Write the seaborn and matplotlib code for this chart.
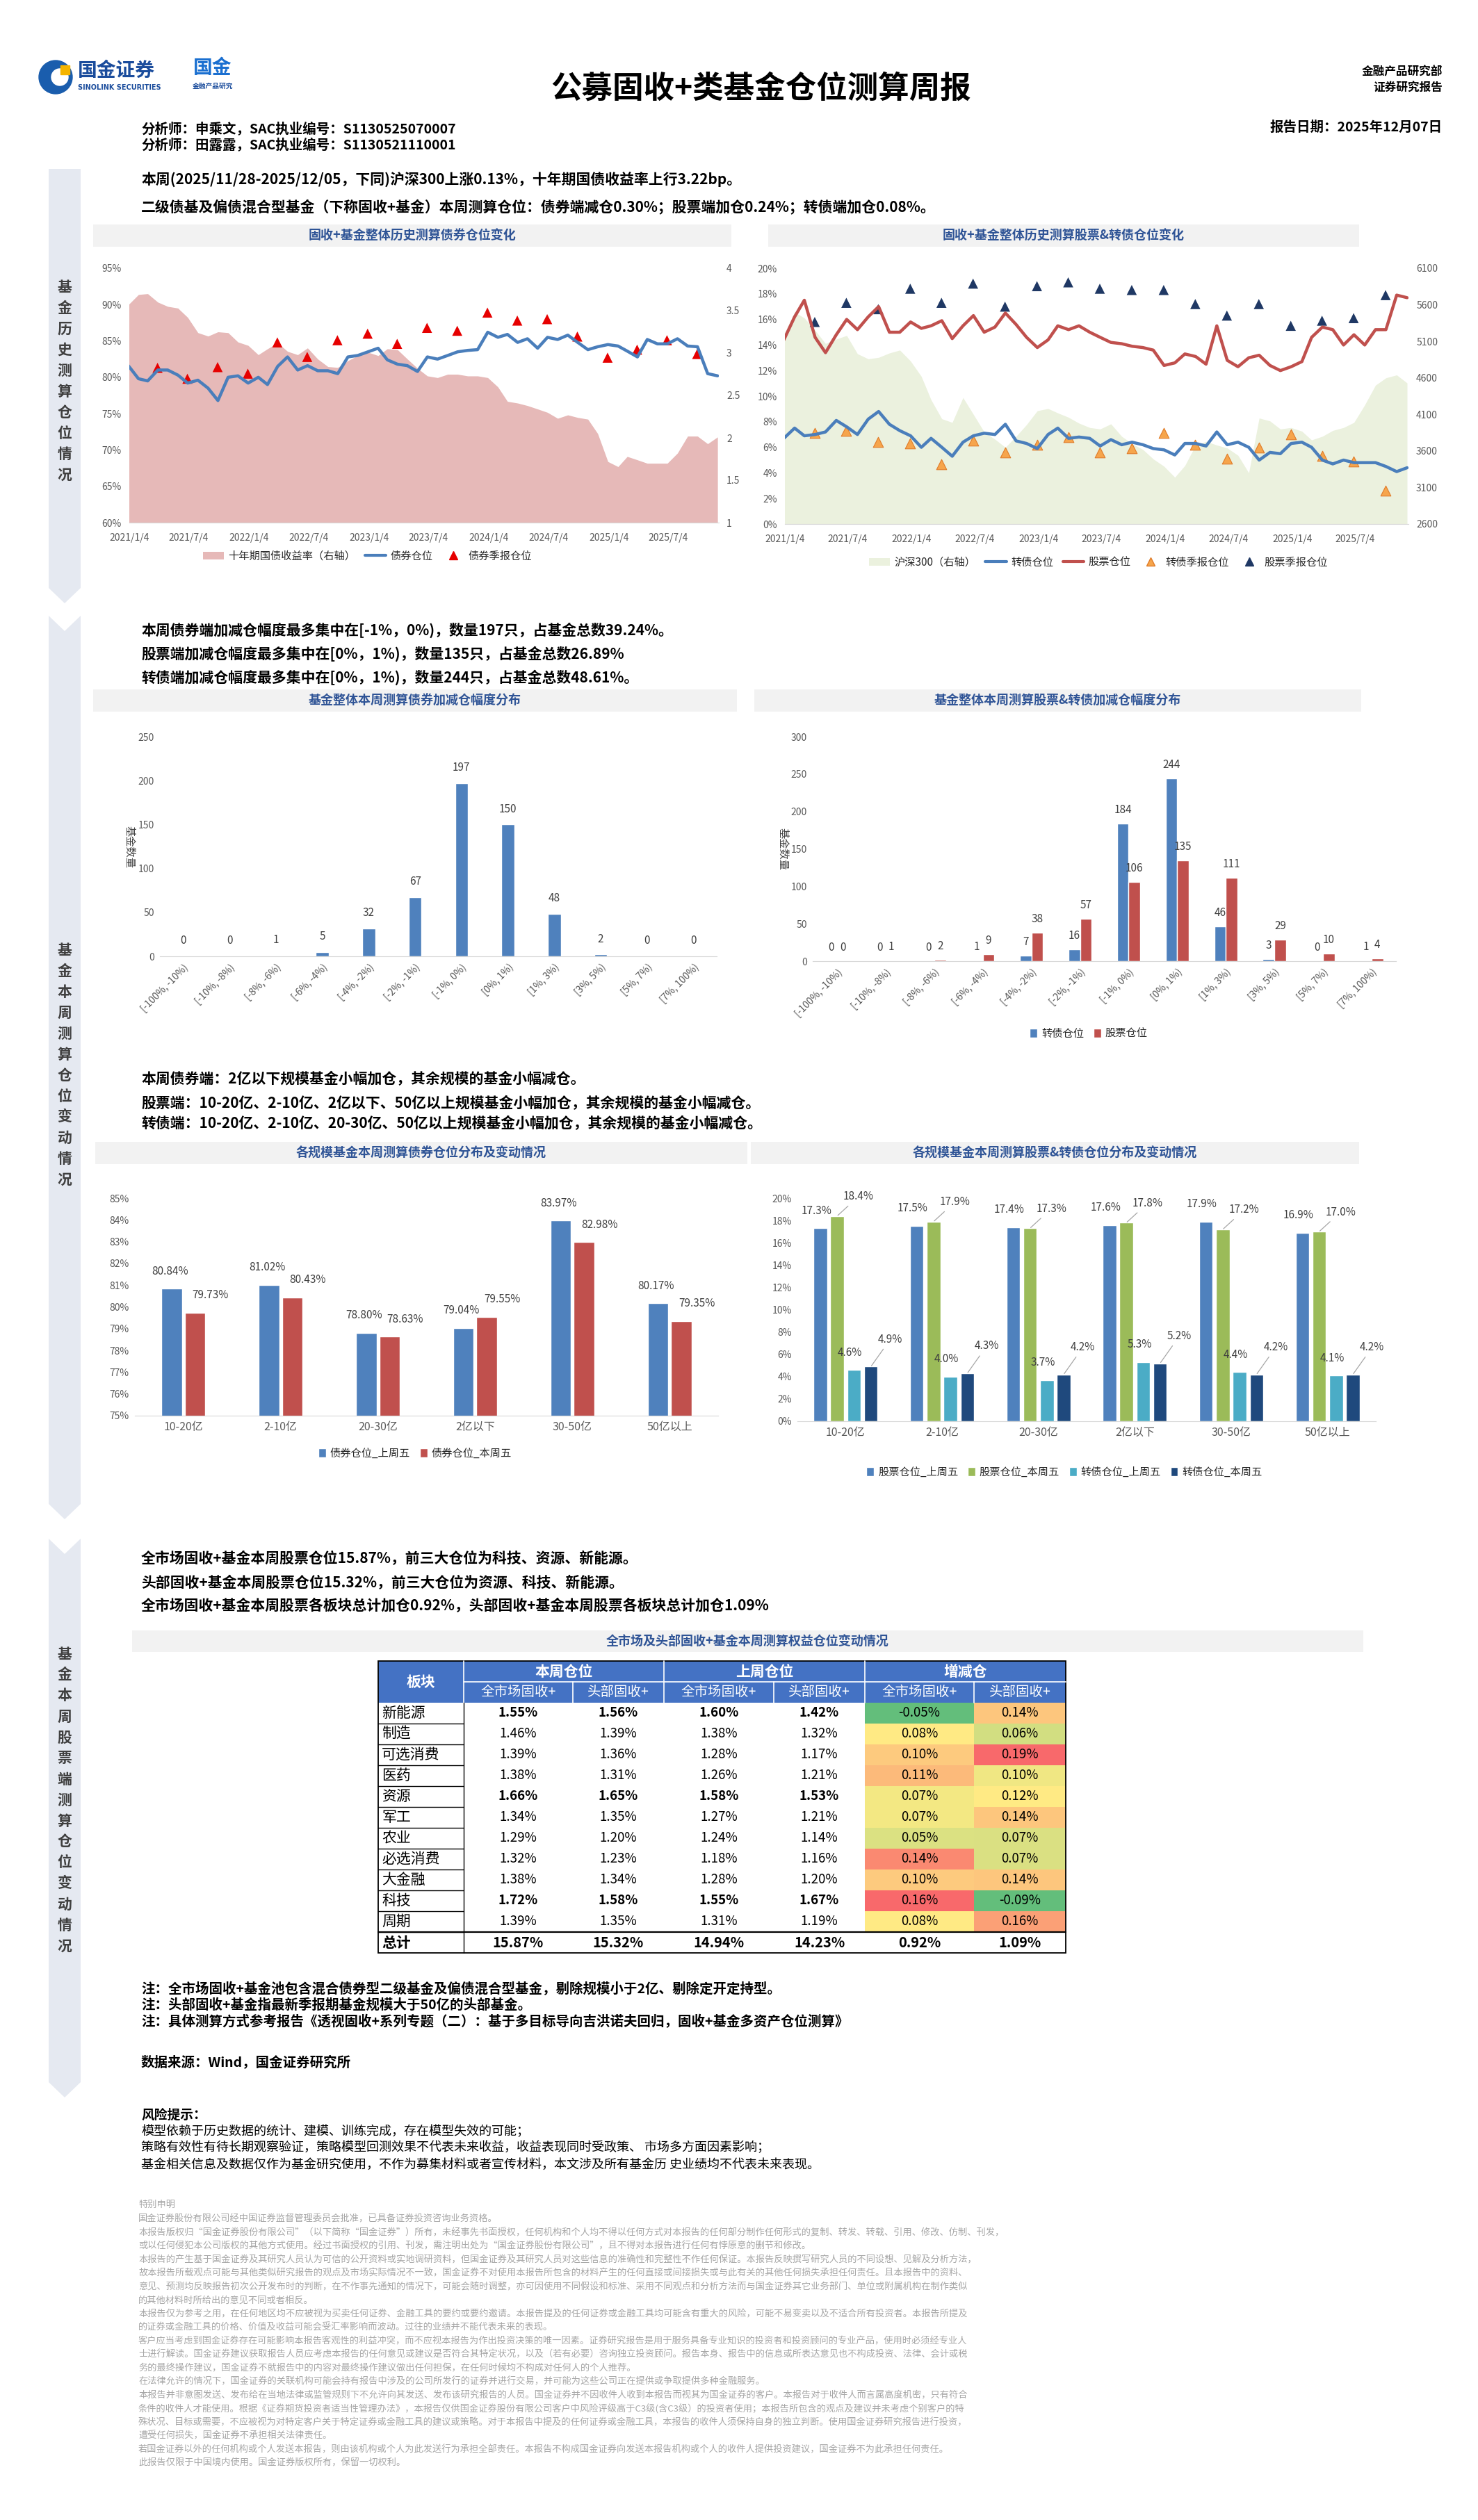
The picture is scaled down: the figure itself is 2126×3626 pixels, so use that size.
import numpy as np
import pandas as pd
import matplotlib
matplotlib.use('Agg')
import matplotlib.pyplot as plt
import seaborn as sns
from matplotlib.patches import Rectangle, Polygon, Patch, Circle
from matplotlib.lines import Line2D
from matplotlib.colors import LinearSegmentedColormap, TwoSlopeNorm
from matplotlib.ticker import FuncFormatter

sns.set_style('white')
plt.rcParams['font.family'] = ['Noto Sans CJK SC', 'DejaVu Sans']
plt.rcParams['axes.unicode_minus'] = False

# ---------------- data ----------------
months = pd.date_range('2021-01-01', '2025-12-01', freq='MS')
quarters = pd.date_range('2021-03-31', periods=19, freq=pd.offsets.QuarterEnd())
tick_dates = pd.date_range('2021-01-04', periods=10, freq=pd.DateOffset(months=6))

bond_pos = [81.6, 79.8, 79.5, 81.0, 81.0, 80.3, 79.2, 79.6, 78.5, 76.8,
            80.0, 80.2, 79.2, 80.0, 79.0, 81.5, 82.8, 81.0, 81.6, 80.9,
            80.9, 80.5, 82.8, 83.0, 83.5, 84.0, 82.4, 81.8, 81.6, 80.8,
            82.8, 82.5, 83.0, 83.5, 83.7, 83.8, 86.2, 85.5, 85.9, 84.8,
            85.3, 84.0, 85.5, 85.2, 85.8, 84.8, 83.8, 84.2, 84.5, 84.3,
            83.6, 82.8, 85.2, 84.6, 84.6, 85.3, 84.3, 84.2, 80.5, 80.2]
yield_10y = [3.57, 3.69, 3.70, 3.60, 3.55, 3.53, 3.42, 3.24, 3.20, 3.25,
             3.24, 3.13, 3.09, 2.98, 3.05, 3.12, 3.02, 2.98, 3.06, 2.93,
             2.84, 2.83, 2.91, 2.97, 3.01, 2.97, 3.05, 3.04, 2.93, 2.82,
             2.73, 2.71, 2.75, 2.75, 2.73, 2.73, 2.71, 2.60, 2.43, 2.41,
             2.38, 2.34, 2.30, 2.23, 2.27, 2.24, 2.22, 2.05, 1.72, 1.66,
             1.78, 1.74, 1.70, 1.70, 1.70, 1.82, 2.02, 2.02, 1.93, 2.01]
bond_q = [81.3, 79.8, 81.4, 80.5, 84.8, 82.8, 85.1, 86.0, 84.6, 86.8,
          86.4, 88.9, 87.8, 88.0, 85.6, 82.7, 83.8, 85.1, 83.2]

stock_pos = [14.4, 16.2, 17.5, 14.6, 13.4, 14.8, 16.0, 15.2, 16.2, 17.0,
             15.0, 15.0, 15.8, 15.3, 15.5, 15.9, 14.5, 15.5, 16.3, 15.0,
             15.4, 16.5, 15.6, 14.6, 13.8, 14.4, 15.5, 15.2, 15.5, 15.0,
             14.6, 14.2, 14.1, 13.9, 13.8, 13.6, 12.4, 12.6, 13.3, 13.1,
             12.5, 15.5, 12.8, 12.3, 13.0, 13.2, 12.4, 12.0, 12.3, 12.7,
             14.6, 15.4, 15.2, 14.0, 14.8, 14.0, 15.2, 15.2, 17.9, 17.7]
cb_pos = [6.7, 7.5, 6.9, 7.0, 7.2, 8.1, 7.6, 7.0, 8.2, 8.8,
          7.8, 7.3, 6.9, 6.0, 6.7, 6.0, 5.3, 6.4, 6.9, 7.1,
          7.0, 7.8, 6.5, 6.3, 5.9, 7.0, 7.5, 6.7, 6.8, 6.7,
          6.1, 6.6, 6.2, 6.4, 6.2, 5.9, 5.8, 5.4, 6.3, 6.3,
          6.1, 7.2, 6.2, 6.4, 6.0, 5.0, 5.6, 5.5, 6.3, 6.4,
          6.0, 5.0, 4.7, 5.0, 4.8, 4.8, 4.8, 4.5, 4.1, 4.4]
hs300 = [5190, 5500, 5420, 5250, 5070, 5130, 5180, 4930, 4860, 4880,
         4940, 4980, 4830, 4620, 4300, 4040, 3990, 4330, 4100, 3860,
         3760, 3650, 3800, 3960, 4150, 4180, 4120, 4060, 3980, 3920,
         3900, 3970, 3800, 3700, 3620, 3490, 3390, 3240, 3400, 3680,
         3730, 3680, 3640, 3540, 3300, 4050, 4010, 3900, 3920, 3870,
         3750, 3800, 3880, 3920, 3990, 4230, 4500, 4600, 4640, 4530]
stock_q = [15.8, 17.3, 16.8, 18.4, 17.3, 18.8, 17.0, 18.6, 18.9, 18.4,
           18.3, 18.3, 17.2, 16.3, 17.2, 15.5, 15.9, 16.1, 17.9]
cb_q = [7.1, 7.3, 6.4, 6.3, 4.7, 6.5, 5.6, 6.2, 6.8, 5.6,
        5.9, 7.1, 6.2, 5.1, 6.0, 7.0, 5.3, 4.9, 2.6]

bins = ['[-100%, -10%)', '[-10%, -8%)', '[-8%, -6%)', '[-6%, -4%)', '[-4%, -2%)',
        '[-2%, -1%)', '[-1%, 0%)', '[0%, 1%)', '[1%, 3%)', '[3%, 5%)', '[5%, 7%)', '[7%, 100%)']
bond_cnt = [0, 0, 1, 5, 32, 67, 197, 150, 48, 2, 0, 0]
cb_cnt = [0, 0, 0, 1, 7, 16, 184, 244, 46, 3, 0, 1]
stk_cnt = [0, 1, 2, 9, 38, 57, 106, 135, 111, 29, 10, 4]

sizes = ['10-20亿', '2-10亿', '20-30亿', '2亿以下', '30-50亿', '50亿以上']
bond_last = [80.84, 81.02, 78.80, 79.04, 83.97, 80.17]
bond_this = [79.73, 80.43, 78.63, 79.55, 82.98, 79.35]
stk_last = [17.3, 17.5, 17.4, 17.6, 17.9, 16.9]
stk_this = [18.4, 17.9, 17.3, 17.8, 17.2, 17.0]
cbs_last = [4.6, 4.0, 3.7, 5.3, 4.4, 4.1]
cbs_this = [4.9, 4.3, 4.2, 5.2, 4.2, 4.2]

sectors = ['新能源', '制造', '可选消费', '医药', '资源', '军工', '农业', '必选消费', '大金融', '科技', '周期']
bold_sectors = ['新能源', '资源', '科技']
now_all = [1.55, 1.46, 1.39, 1.38, 1.66, 1.34, 1.29, 1.32, 1.38, 1.72, 1.39]
now_top = [1.56, 1.39, 1.36, 1.31, 1.65, 1.35, 1.20, 1.23, 1.34, 1.58, 1.35]
prev_all = [1.60, 1.38, 1.28, 1.26, 1.58, 1.27, 1.24, 1.18, 1.28, 1.55, 1.31]
prev_top = [1.42, 1.32, 1.17, 1.21, 1.53, 1.21, 1.14, 1.16, 1.20, 1.67, 1.19]
chg_all = [-0.05, 0.08, 0.10, 0.11, 0.07, 0.07, 0.05, 0.14, 0.10, 0.16, 0.08]
chg_top = [0.14, 0.06, 0.19, 0.10, 0.12, 0.14, 0.07, 0.07, 0.14, -0.09, 0.16]
totals = [15.87, 15.32, 14.94, 14.23, 0.92, 1.09]

disclaimer = [
    '国金证券股份有限公司经中国证券监督管理委员会批准，已具备证券投资咨询业务资格。',
    '本报告版权归“国金证券股份有限公司”（以下简称“国金证券”）所有，未经事先书面授权，任何机构和个人均不得以任何方式对本报告的任何部分制作任何形式的复制、转发、转载、引用、修改、仿制、刊发，',
    '或以任何侵犯本公司版权的其他方式使用。经过书面授权的引用、刊发，需注明出处为“国金证券股份有限公司”，且不得对本报告进行任何有悖原意的删节和修改。',
    '本报告的产生基于国金证券及其研究人员认为可信的公开资料或实地调研资料，但国金证券及其研究人员对这些信息的准确性和完整性不作任何保证。本报告反映撰写研究人员的不同设想、见解及分析方法，',
    '故本报告所载观点可能与其他类似研究报告的观点及市场实际情况不一致，国金证券不对使用本报告所包含的材料产生的任何直接或间接损失或与此有关的其他任何损失承担任何责任。且本报告中的资料、',
    '意见、预测均反映报告初次公开发布时的判断，在不作事先通知的情况下，可能会随时调整，亦可因使用不同假设和标准、采用不同观点和分析方法而与国金证券其它业务部门、单位或附属机构在制作类似',
    '的其他材料时所给出的意见不同或者相反。',
    '本报告仅为参考之用，在任何地区均不应被视为买卖任何证券、金融工具的要约或要约邀请。本报告提及的任何证券或金融工具均可能含有重大的风险，可能不易变卖以及不适合所有投资者。本报告所提及',
    '的证券或金融工具的价格、价值及收益可能会受汇率影响而波动。过往的业绩并不能代表未来的表现。',
    '客户应当考虑到国金证券存在可能影响本报告客观性的利益冲突，而不应视本报告为作出投资决策的唯一因素。证券研究报告是用于服务具备专业知识的投资者和投资顾问的专业产品，使用时必须经专业人',
    '士进行解读。国金证券建议获取报告人员应考虑本报告的任何意见或建议是否符合其特定状况，以及（若有必要）咨询独立投资顾问。报告本身、报告中的信息或所表达意见也不构成投资、法律、会计或税',
    '务的最终操作建议，国金证券不就报告中的内容对最终操作建议做出任何担保，在任何时候均不构成对任何人的个人推荐。',
    '在法律允许的情况下，国金证券的关联机构可能会持有报告中涉及的公司所发行的证券并进行交易，并可能为这些公司正在提供或争取提供多种金融服务。',
    '本报告并非意图发送、发布给在当地法律或监管规则下不允许向其发送、发布该研究报告的人员。国金证券并不因收件人收到本报告而视其为国金证券的客户。本报告对于收件人而言属高度机密，只有符合',
    '条件的收件人才能使用。根据《证券期货投资者适当性管理办法》，本报告仅供国金证券股份有限公司客户中风险评级高于C3级(含C3级）的投资者使用；本报告所包含的观点及建议并未考虑个别客户的特',
    '殊状况、目标或需要，不应被视为对特定客户关于特定证券或金融工具的建议或策略。对于本报告中提及的任何证券或金融工具，本报告的收件人须保持自身的独立判断。使用国金证券研究报告进行投资，',
    '遭受任何损失，国金证券不承担相关法律责任。',
    '若国金证券以外的任何机构或个人发送本报告，则由该机构或个人为此发送行为承担全部责任。本报告不构成国金证券向发送本报告机构或个人的收件人提供投资建议，国金证券不为此承担任何责任。',
    '此报告仅限于中国境内使用。国金证券版权所有，保留一切权利。',
]

# ---------------- layout helpers ----------------
W, H = 2126, 3626
GRAY = '#595959'
TITLE_C = '#2F5496'
BLUE = '#4A7EBB'
RED = '#C0504D'

fig = plt.figure(figsize=(W / 100, H / 100), dpi=100)
bg = fig.add_axes([0, 0, 1, 1])
bg.set_xlim(0, W)
bg.set_ylim(H, 0)
bg.axis('off')


def panel(x0, y0, x1, y1):
    return fig.add_axes([x0 / W, 1 - y1 / H, (x1 - x0) / W, (y1 - y0) / H])


def txt(x, y, s, size=15, weight='bold', color='black', ha='left', **kw):
    bg.text(x, y, s, fontsize=size, fontweight=weight, color=color, ha=ha, va='center', **kw)


def title_bar(x0, x1, y0, y1, s):
    bg.add_patch(Rectangle((x0, y0), x1 - x0, y1 - y0, facecolor='#F2F2F2', edgecolor='none'))
    txt((x0 + x1) / 2, (y0 + y1) / 2, s, size=13, color=TITLE_C, ha='center')


def sidebar(top, bottom, label, yc, notch=True):
    pts = [(70, top), (93, top + 22) if notch else (93, top), (116, top),
           (116, bottom - 22), (93, bottom), (70, bottom - 22)]
    bg.add_patch(Polygon(pts, closed=True, facecolor='#E5E9F1', edgecolor='none'))
    n = len(label)
    for k, ch in enumerate(label):
        txt(93, yc - (n - 1) * 15 + k * 30, ch, size=15, color='#3F3F3F', ha='center')


def fig_legend(handles, labels, x, y, ncol, **kw):
    fig.legend(handles, labels, loc='center', bbox_to_anchor=(x / W, 1 - y / H), ncol=ncol,
               frameon=False, fontsize=11, handletextpad=0.4, columnspacing=0.9, **kw)


pct0 = FuncFormatter(lambda v, p: f'{v:.0f}%')

# ---------------- header ----------------
bg.add_patch(Circle((80, 111), 24, color='#1A5DAD'))
bg.add_patch(Circle((86, 111), 12, color='white'))
bg.add_patch(Rectangle((87, 94), 13, 13, color='#F4B400'))
txt(112, 102, '国金证券', size=20, color='#1A4C9C')
txt(112, 126, 'SINOLINK SECURITIES', size=7, color='#1A4C9C', family=['DejaVu Sans'])
txt(306, 98, '国金', size=20, color='#1A6FD0', ha='center')
txt(306, 124, '金融产品研究', size=7, color='#1A4C9C', ha='center')
txt(1095, 128, '公募固收+类基金仓位测算周报', size=32, ha='center')
txt(2075, 103, '金融产品研究部', size=12, ha='right')
txt(2075, 126, '证券研究报告', size=12, ha='right')
txt(203, 185, '分析师：申乘文，SAC执业编号：S1130525070007', size=14)
txt(203, 208, '分析师：田露露，SAC执业编号：S1130521110001', size=14)
txt(2075, 183, '报告日期：2025年12月07日', size=14, ha='right')

# ---------------- side bars ----------------
sidebar(243, 868, '基金历史测算仓位情况', 548, notch=False)
sidebar(886, 2186, '基金本周测算仓位变动情况', 1532)
sidebar(2214, 3018, '基金本周股票端测算仓位变动情况', 2590)

# ---------------- section 1 text ----------------
txt(203, 259, '本周(2025/11/28-2025/12/05，下同)沪深300上涨0.13%，十年期国债收益率上行3.22bp。')
txt(203, 298, '二级债基及偏债混合型基金（下称固收+基金）本周测算仓位：债券端减仓0.30%；股票端加仓0.24%；转债端加仓0.08%。')

title_bar(134, 1052, 323, 355, '固收+基金整体历史测算债券仓位变化')
title_bar(1105, 1955, 323, 355, '固收+基金整体历史测算股票&转债仓位变化')


def style_time(ax, axr):
    for a in (ax, axr):
        for s in ['top', 'left', 'right', 'bottom']:
            a.spines[s].set_visible(False)
        a.tick_params(axis='y', length=0, labelsize=10, labelcolor=GRAY, pad=8)
        a.set_xlabel('')
        a.set_ylabel('')
    ax.spines['bottom'].set_visible(True)
    ax.spines['bottom'].set_color('#D9D9D9')
    ax.set_xticks(tick_dates)
    ax.set_xticklabels([f'{d.year}/{d.month}/{d.day}' for d in tick_dates])
    ax.tick_params(axis='x', length=5, color='#D9D9D9', labelsize=10, labelcolor=GRAY, pad=6)
    ax.set_xlim(pd.Timestamp('2021-01-04'), pd.Timestamp('2025-12-05'))


# top-left: bond position vs 10y yield
ax1 = panel(186, 386, 1034, 752)
ax1r = ax1.twinx()
ax1r.fill_between(months, 1, yield_10y, color='#E6B9B8', lw=0)
ax1r.set_ylim(1, 4)
ax1r.set_yticks(np.arange(1, 4.01, 0.5))
ax1r.yaxis.set_major_formatter(FuncFormatter(lambda v, p: f'{v:g}'))
ax1.set_zorder(ax1r.get_zorder() + 1)
ax1.patch.set_visible(False)
sns.lineplot(x=months, y=bond_pos, ax=ax1, color=BLUE, lw=3.2)
sns.scatterplot(x=quarters, y=bond_q, ax=ax1, marker='^', s=110, color='#E60000', edgecolor='none')
ax1.set_ylim(60, 95)
ax1.set_yticks(np.arange(60, 95.1, 5))
ax1.yaxis.set_major_formatter(pct0)
style_time(ax1, ax1r)
fig_legend([Patch(facecolor='#E6B9B8', edgecolor='none'), Line2D([], [], color=BLUE, lw=3),
            Line2D([], [], marker='^', color='#E60000', ls='none', markersize=9)],
           ['十年期国债收益率（右轴）', '债券仓位', '债券季报仓位'], 528, 800, 3)

# top-right: stock & convertible positions vs CSI300
ax2 = panel(1129, 386, 2026, 754)
ax2r = ax2.twinx()
ax2r.fill_between(months, 2600, hs300, color='#EBF1DE', lw=0)
ax2r.set_ylim(2600, 6100)
ax2r.set_yticks(np.arange(2600, 6101, 500))
ax2.set_zorder(ax2r.get_zorder() + 1)
ax2.patch.set_visible(False)
sns.lineplot(x=months, y=cb_pos, ax=ax2, color=BLUE, lw=3.2)
sns.lineplot(x=months, y=stock_pos, ax=ax2, color=RED, lw=3.2)
sns.scatterplot(x=quarters, y=cb_q, ax=ax2, marker='^', s=110, color='#F6A54C', edgecolor='#E07B28', linewidth=0.8)
sns.scatterplot(x=quarters, y=stock_q, ax=ax2, marker='^', s=110, color='#1F3864', edgecolor='none')
ax2.set_ylim(0, 20)
ax2.set_yticks(np.arange(0, 20.1, 2))
ax2.yaxis.set_major_formatter(pct0)
style_time(ax2, ax2r)
fig_legend([Patch(facecolor='#EBF1DE', edgecolor='none'), Line2D([], [], color=BLUE, lw=3),
            Line2D([], [], color=RED, lw=3),
            Line2D([], [], marker='^', color='#F6A54C', markeredgecolor='#E07B28', ls='none', markersize=9),
            Line2D([], [], marker='^', color='#1F3864', ls='none', markersize=9)],
           ['沪深300（右轴）', '转债仓位', '股票仓位', '转债季报仓位', '股票季报仓位'], 1580, 809, 5)

# ---------------- section 2 text ----------------
txt(203, 907, '本周债券端加减仓幅度最多集中在[-1%，0%)，数量197只，占基金总数39.24%。')
txt(203, 941, '股票端加减仓幅度最多集中在[0%，1%)，数量135只，占基金总数26.89%')
txt(203, 975, '转债端加减仓幅度最多集中在[0%，1%)，数量244只，占基金总数48.61%。')

title_bar(134, 1060, 992, 1024, '基金整体本周测算债券加减仓幅度分布')
title_bar(1085, 1958, 992, 1024, '基金整体本周测算股票&转债加减仓幅度分布')


def style_bar(ax, n, seps=True, xsize=10):
    sns.despine(ax=ax, left=True)
    ax.spines['bottom'].set_color('#D9D9D9')
    ax.tick_params(axis='y', length=0, labelsize=10, labelcolor=GRAY, pad=6)
    ax.tick_params(axis='x', which='major', length=0, labelsize=xsize, labelcolor=GRAY, pad=6)
    if seps:
        ax.set_xticks(np.arange(-0.5, n, 1), minor=True)
        ax.tick_params(axis='x', which='minor', length=6, color='#D9D9D9')
    ax.set_xlabel('')
    ax.set_ylabel('')


# bond distribution
ax3 = panel(230, 1060, 1031, 1376)
df_b = pd.DataFrame({'区间': bins, '数量': bond_cnt})
sns.barplot(data=df_b, x='区间', y='数量', ax=ax3, color='#4F81BD', width=0.28, saturation=1)
ax3.bar_label(ax3.containers[0], padding=10, fontsize=11, color='#404040')
ax3.set_ylim(0, 250)
ax3.set_yticks(np.arange(0, 251, 50))
style_bar(ax3, len(bins))
ax3.set_xticks(range(len(bins)))
ax3.set_xticklabels(bins, rotation=45, ha='right', rotation_mode='anchor')
ax3.set_ylabel('基金数量', rotation=270, fontsize=11, color='#404040')
ax3.yaxis.set_label_coords(-0.065, 0.5)

# stock & convertible distribution
ax4 = panel(1169, 1060, 2008, 1383)
df_sc = pd.DataFrame({'区间': bins * 2, '数量': cb_cnt + stk_cnt,
                      '类型': ['转债仓位'] * len(bins) + ['股票仓位'] * len(bins)})
sns.barplot(data=df_sc, x='区间', y='数量', hue='类型', ax=ax4, palette=['#4F81BD', RED],
            width=0.48, saturation=1, legend=False)
for c in ax4.containers:
    ax4.bar_label(c, padding=8, fontsize=11, color='#404040')
ax4.set_ylim(0, 300)
ax4.set_yticks(np.arange(0, 301, 50))
style_bar(ax4, len(bins))
ax4.set_xticks(range(len(bins)))
ax4.set_xticklabels(bins, rotation=45, ha='right', rotation_mode='anchor')
ax4.set_ylabel('基金数量', rotation=270, fontsize=11, color='#404040')
ax4.yaxis.set_label_coords(-0.061, 0.5)
fig_legend([Patch(facecolor='#4F81BD'), Patch(facecolor=RED)], ['转债仓位', '股票仓位'], 1566, 1487, 2,
           handlelength=0.7, handleheight=0.9)

txt(203, 1552, '本周债券端：2亿以下规模基金小幅加仓，其余规模的基金小幅减仓。')
txt(203, 1587, '股票端：10-20亿、2-10亿、2亿以下、50亿以上规模基金小幅加仓，其余规模的基金小幅减仓。')
txt(203, 1616, '转债端：10-20亿、2-10亿、20-30亿、50亿以上规模基金小幅加仓，其余规模的基金小幅减仓。')

title_bar(137, 1075, 1643, 1675, '各规模基金本周测算债券仓位分布及变动情况')
title_bar(1080, 1955, 1643, 1675, '各规模基金本周测算股票&转债仓位分布及变动情况')


def offset_labels(ax, cont, vals, fmt, dx, dy, leader=False):
    for bar, v in zip(cont, vals):
        xc = bar.get_x() + bar.get_width() / 2
        kw = dict(arrowprops=dict(arrowstyle='-', color='#A6A6A6', lw=0.9, shrinkA=2, shrinkB=1)) if leader else {}
        ax.annotate(fmt.format(v), (xc, v), xytext=(dx, dy), textcoords='offset points',
                    ha='center', va='bottom', fontsize=11, color='#404040', **kw)


# bond position by size
ax5 = panel(194, 1724, 1033, 2037)
df_bs = pd.DataFrame({'规模': sizes * 2, '仓位': bond_last + bond_this,
                      '期': ['债券仓位_上周五'] * 6 + ['债券仓位_本周五'] * 6})
sns.barplot(data=df_bs, x='规模', y='仓位', hue='期', ax=ax5, palette=['#4F81BD', RED],
            width=0.48, gap=0.12, saturation=1, legend=False)
ax5.set_ylim(75, 85)
ax5.set_yticks(np.arange(75, 85.1, 1))
ax5.yaxis.set_major_formatter(pct0)
offset_labels(ax5, ax5.containers[0], bond_last, '{:.2f}%', -2, 12)
offset_labels(ax5, ax5.containers[1], bond_this, '{:.2f}%', 16, 12)
style_bar(ax5, 6, seps=False, xsize=11.5)
fig_legend([Patch(facecolor='#4F81BD'), Patch(facecolor=RED)], ['债券仓位_上周五', '债券仓位_本周五'],
           597, 2091, 2, handlelength=0.7, handleheight=0.9)

# stock & convertible position by size
ax6 = panel(1147, 1724, 1979, 2045)
df_ss = pd.DataFrame({'规模': sizes * 4, '仓位': stk_last + stk_this + cbs_last + cbs_this,
                      '期': ['股票仓位_上周五'] * 6 + ['股票仓位_本周五'] * 6 +
                           ['转债仓位_上周五'] * 6 + ['转债仓位_本周五'] * 6})
pal4 = ['#4F81BD', '#9BBB59', '#4BACC6', '#1F497D']
sns.barplot(data=df_ss, x='规模', y='仓位', hue='期', ax=ax6, palette=pal4,
            width=0.7, gap=0.2, saturation=1, legend=False)
ax6.set_ylim(0, 20)
ax6.set_yticks(np.arange(0, 20.1, 2))
ax6.yaxis.set_major_formatter(pct0)
offset_labels(ax6, ax6.containers[0], stk_last, '{:.1f}%', -4, 12)
offset_labels(ax6, ax6.containers[1], stk_this, '{:.1f}%', 22, 14, leader=True)
offset_labels(ax6, ax6.containers[2], cbs_last, '{:.1f}%', -4, 12)
offset_labels(ax6, ax6.containers[3], cbs_this, '{:.1f}%', 20, 22, leader=True)
style_bar(ax6, 6, seps=False, xsize=11.5)
fig_legend([Patch(facecolor=c) for c in pal4],
           ['股票仓位_上周五', '股票仓位_本周五', '转债仓位_上周五', '转债仓位_本周五'],
           1531, 2118, 4, handlelength=0.7, handleheight=0.9)

# ---------------- section 3 ----------------
txt(203, 2242, '全市场固收+基金本周股票仓位15.87%，前三大仓位为科技、资源、新能源。')
txt(203, 2277, '头部固收+基金本周股票仓位15.32%，前三大仓位为资源、科技、新能源。')
txt(203, 2310, '全市场固收+基金本周股票各板块总计加仓0.92%，头部固收+基金本周股票各板块总计加仓1.09%')

title_bar(190, 1961, 2346, 2377, '全市场及头部固收+基金本周测算权益仓位变动情况')

col_x = [544, 667, 824, 955, 1113, 1244, 1401, 1533]
top, rh = 2390, 30
hdr = '#4472C4'
bg.add_patch(Rectangle((col_x[0], top), col_x[-1] - col_x[0], 2 * rh, facecolor=hdr, edgecolor='none'))
for xv in (col_x[1], col_x[3], col_x[5]):
    bg.plot([xv, xv], [top, top + 2 * rh], color='white', lw=1.2)
for xv in (col_x[2], col_x[4], col_x[6]):
    bg.plot([xv, xv], [top + rh, top + 2 * rh], color='white', lw=1.2)
bg.plot([col_x[1], col_x[-1]], [top + rh, top + rh], color='white', lw=1.2)
txt((col_x[0] + col_x[1]) / 2, top + rh, '板块', size=15, color='white', ha='center')
for g, (name, a) in enumerate([('本周仓位', 1), ('上周仓位', 3), ('增减仓', 5)]):
    txt((col_x[a] + col_x[a + 2]) / 2, top + rh / 2, name, size=15, color='white', ha='center')
    txt((col_x[a] + col_x[a + 1]) / 2, top + 1.5 * rh, '全市场固收+', size=14, weight='normal', color='white', ha='center')
    txt((col_x[a + 1] + col_x[a + 2]) / 2, top + 1.5 * rh, '头部固收+', size=14, weight='normal', color='white', ha='center')

cmap = LinearSegmentedColormap.from_list('excel3', ['#63BE7B', '#FFEB84', '#F8696B'])
cols = [now_all, now_top, prev_all, prev_top, chg_all, chg_top]
norms = {4: TwoSlopeNorm(vmin=min(chg_all), vcenter=float(np.median(chg_all)), vmax=max(chg_all)),
         5: TwoSlopeNorm(vmin=min(chg_top), vcenter=float(np.median(chg_top)), vmax=max(chg_top))}
y0 = top + 2 * rh
for i, sec in enumerate(sectors):
    yc = y0 + i * rh + rh / 2
    strong = sec in bold_sectors
    txt(col_x[0] + 5, yc, sec, size=15, weight='normal')
    for j, col in enumerate(cols):
        v = col[i]
        if j >= 4:
            bg.add_patch(Rectangle((col_x[j + 1], y0 + i * rh), col_x[j + 2] - col_x[j + 1], rh,
                                   facecolor=cmap(norms[j](v)), edgecolor='none'))
        w = 'bold' if (strong and j < 4) else 'normal'
        txt((col_x[j + 1] + col_x[j + 2]) / 2, yc, f'{v:.2f}%', size=13.5, weight=w, ha='center')
    bg.plot([col_x[0], col_x[1]], [y0 + (i + 1) * rh] * 2, color='black', lw=1)
yt = y0 + len(sectors) * rh + rh / 2
txt(col_x[0] + 5, yt, '总计', size=15)
for j, v in enumerate(totals):
    txt((col_x[j + 1] + col_x[j + 2]) / 2, yt, f'{v:.2f}%', size=14.5, ha='center')
bottom = y0 + (len(sectors) + 1) * rh
bg.plot([col_x[0], col_x[-1]], [bottom - rh] * 2, color='black', lw=1.6)
bg.plot([col_x[1], col_x[1]], [y0, bottom], color='black', lw=1)
bg.add_patch(Rectangle((col_x[0], top), col_x[-1] - col_x[0], bottom - top, facecolor='none',
                       edgecolor='black', lw=1.3))

# ---------------- notes & footer ----------------
txt(203, 2862, '注：全市场固收+基金池包含混合债券型二级基金及偏债混合型基金，剔除规模小于2亿、剔除定开定持型。', size=14)
txt(203, 2885, '注：头部固收+基金指最新季报期基金规模大于50亿的头部基金。', size=14)
txt(203, 2909, '注：具体测算方式参考报告《透视固收+系列专题（二）：基于多目标导向吉洪诺夫回归，固收+基金多资产仓位测算》', size=14)
txt(203, 2968, '数据来源：Wind，国金证券研究所', size=14)

txt(203, 3043, '风险提示：', size=13.5)
txt(203, 3067, '模型依赖于历史数据的统计、建模、训练完成，存在模型失效的可能；', size=13, weight='normal')
txt(203, 3090, '策略有效性有待长期观察验证，策略模型回测效果不代表未来收益，收益表现同时受政策、 市场多方面因素影响；', size=13, weight='normal')
txt(203, 3115, '基金相关信息及数据仅作为基金研究使用，不作为募集材料或者宣传材料，本文涉及所有基金历 史业绩均不代表未来表现。', size=13, weight='normal')

txt(199, 3172, '特别申明', size=9.5, weight='normal', color='#A6A6A6')
for k, line in enumerate(disclaimer):
    txt(199, 3193 + k * 19.5, line, size=9.5, weight='normal', color='#A6A6A6')

fig.savefig('out.png', dpi=100)
